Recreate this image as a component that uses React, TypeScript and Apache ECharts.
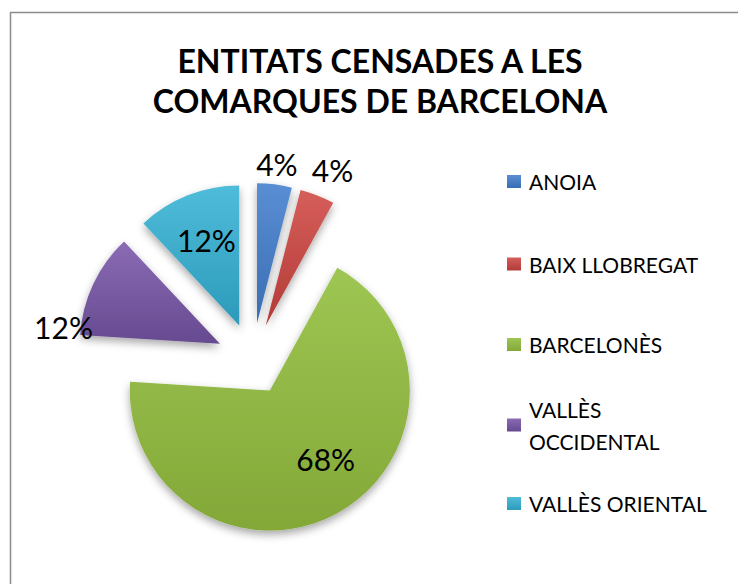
import React, { useEffect, useRef } from "react";
import * as echarts from "echarts";

const titleLines = ["ENTITATS CENSADES A LES", "COMARQUES DE BARCELONA"];
const categories = ["ANOIA", "BAIX LLOBREGAT", "BARCELONÈS", "VALLÈS OCCIDENTAL", "VALLÈS ORIENTAL"];
const legendLabels = ["ANOIA", "BAIX LLOBREGAT", "BARCELONÈS", "VALLÈS\nOCCIDENTAL", "VALLÈS ORIENTAL"];
const counts = [1, 1, 17, 3, 3];

const palette = [
  ["#5A8ED4", "#3A6DB2"],
  ["#D65E5A", "#B23A37"],
  ["#9EC653", "#83A838"],
  ["#8A6BB4", "#664A90"],
  ["#4FBCDA", "#2C9ABA"],
];

// label placement (pie label-line lengths / distances), per slice
const labelCfg = [
  { len: 21, dist: -21 },
  { len: 27.7, dist: -15.7 },
  { len: -61.8, dist: -11.2 },
  { len: -101, dist: 91.7 },
  { len: -48.1, dist: -30.5 },
];
const legendTops = [169.5, 252, 332.5, 377, 491.5];

export default function App() {
  const ref = useRef<HTMLDivElement>(null);
  useEffect(() => {
    if (!ref.current) return;
    const chart = echarts.init(ref.current, undefined, { renderer: "svg" });
    const font = "Lato, 'Open Sans', sans-serif";
    const grad = (i: number) =>
      new echarts.graphic.LinearGradient(0, 0, 0, 1, [
        { offset: 0, color: palette[i][0] },
        { offset: 1, color: palette[i][1] },
      ]);
    chart.setOption({
      animation: false,
      backgroundColor: "#ffffff",
      title: {
        text: titleLines.join("\n"),
        left: 380,
        top: 40,
        textAlign: "center",
        padding: 0,
        textStyle: {
          fontFamily: font,
          fontSize: 32,
          fontWeight: "bold",
          lineHeight: 40,
          color: "#000",
        },
      },
      graphic: [
        {
          type: "rect",
          left: 8,
          top: 10,
          shape: { width: 760, height: 600 },
          style: { fill: "none", stroke: "#8c8c8c", lineWidth: 1.5 },
          silent: true,
        },
      ],
      legend: categories.map((name, i) => ({
        data: [
          {
            name,
            textStyle:
              i === 3
                ? { padding: [32, 0, 0, 3], lineHeight: 32 }
                : { padding: [0, 0, 0, 3], lineHeight: 24 },
          },
        ],
        formatter: () => legendLabels[i],
        orient: "vertical",
        left: 507,
        top: legendTops[i],
        padding: 0,
        itemWidth: 14,
        itemHeight: 13,
        icon: "rect",
        selectedMode: false,
        textStyle: { fontFamily: font, fontSize: 21, color: "#000" },
      })),
      series: [
        {
          type: "pie",
          center: [252.5, 359],
          radius: 140,
          startAngle: 90,
          clockwise: true,
          selectedMode: "multiple",
          selectedOffset: 36,
          avoidLabelOverlap: false,
          percentPrecision: 0,
          emphasis: { disabled: true },
          label: {
            show: true,
            position: "outside",
            formatter: "{d}%",
            fontFamily: font,
            fontSize: 30,
            color: "#000",
          },
          labelLine: { show: false, length2: 0 },
          itemStyle: {
            shadowBlur: 8,
            shadowOffsetY: 4,
            shadowColor: "rgba(0,0,0,0.35)",
          },
          data: categories.map((name, i) => ({
            name,
            value: counts[i],
            selected: true,
            itemStyle: { color: grad(i) },
            label: { distanceToLabelLine: labelCfg[i].dist },
            labelLine: { show: false, length: labelCfg[i].len, length2: 0 },
          })),
        },
      ],
    });
    return () => chart.dispose();
  }, []);
  return (
    <div
      ref={ref}
      style={{ position: "absolute", left: 0, top: 0, width: 738, height: 584 }}
    />
  );
}
